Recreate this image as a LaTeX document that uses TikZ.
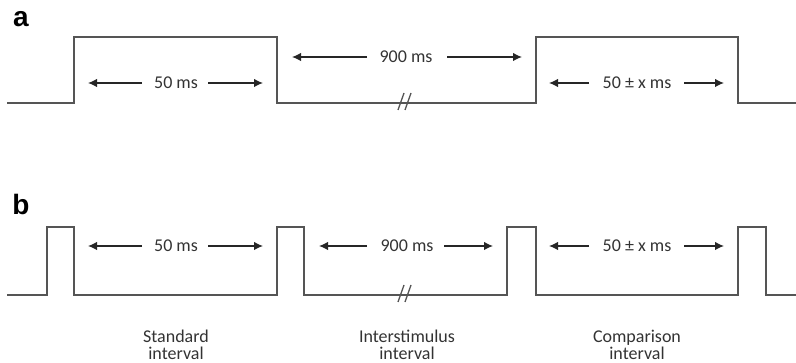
\documentclass[tikz,border=0pt]{standalone}
\usepackage{fontspec}
\setmainfont{Carlito}
\newfontfamily\labfont{Liberation Sans}
\usetikzlibrary{arrows.meta}
\definecolor{wave}{HTML}{555555}
\definecolor{txt}{HTML}{333333}
\tikzset{
  wavepath/.style={draw=wave, line width=1.4pt, line join=miter},
  arr/.style={draw=black!85, line width=1.3pt, -{Latex[length=9pt,width=8.5pt]}},
  lbl/.style={text=txt, font=\fontsize{18}{18}\selectfont, inner sep=0pt},
  captext/.style={text=txt, font=\fontsize{18}{16.5}\selectfont, align=center, inner sep=0pt},
  panel/.style={text=black, font=\labfont\bfseries\fontsize{28}{28}\selectfont, inner sep=0pt},
  brk/.style={draw=wave, line width=1.3pt}
}
\begin{document}
\begin{tikzpicture}[x=1pt,y=-1pt]
\useasboundingbox (0,0) rectangle (796,363);
% panel labels
\node[panel] (pa) at (21,19.5) {a};
\node[panel] (pb) at (21,204) {b};
% panel a waveform
\coordinate (a0) at (7,103);
\coordinate (a1) at (74,103);
\coordinate (a2) at (74,37);
\coordinate (a3) at (277,37);
\coordinate (a4) at (277,103);
\coordinate (a5) at (536,103);
\coordinate (a6) at (536,37);
\coordinate (a7) at (738,37);
\coordinate (a8) at (738,103);
\coordinate (a9) at (796,103);
\draw[wavepath] (a0) -- (a1) -- (a2) -- (a3) -- (a4) -- (a5) -- (a6) -- (a7) -- (a8) -- (a9);
\coordinate (sa1) at (398,110); \coordinate (sa2) at (404,93);
\coordinate (sa3) at (405,110); \coordinate (sa4) at (411,93);
\draw[brk] (sa1) -- (sa2);
\draw[brk] (sa3) -- (sa4);
% panel a labels and arrows
\node[lbl] (ta1) at (176,83) {50 ms};
\coordinate (ta1l) at (142,83); \coordinate (ta1le) at (88,83);
\coordinate (ta1r) at (208,83); \coordinate (ta1re) at (263,83);
\draw[arr] (ta1l) -- (ta1le);
\draw[arr] (ta1r) -- (ta1re);
\node[lbl] (ta2) at (406,57) {900 ms};
\coordinate (ta2l) at (367,57); \coordinate (ta2le) at (292,57);
\coordinate (ta2r) at (447,57); \coordinate (ta2re) at (522,57);
\draw[arr] (ta2l) -- (ta2le);
\draw[arr] (ta2r) -- (ta2re);
\node[lbl] (ta3) at (637,83) {50 ± x ms};
\coordinate (ta3l) at (589,83); \coordinate (ta3le) at (549,83);
\coordinate (ta3r) at (684,83); \coordinate (ta3re) at (724,83);
\draw[arr] (ta3l) -- (ta3le);
\draw[arr] (ta3r) -- (ta3re);
% panel b waveform
\coordinate (b0) at (7,295);
\coordinate (b1) at (47,295);
\coordinate (b2) at (47,227);
\coordinate (b3) at (74,227);
\coordinate (b4) at (74,295);
\coordinate (b5) at (277,295);
\coordinate (b6) at (277,227);
\coordinate (b7) at (304,227);
\coordinate (b8) at (304,295);
\coordinate (b9) at (507,295);
\coordinate (b10) at (507,227);
\coordinate (b11) at (536,227);
\coordinate (b12) at (536,295);
\coordinate (b13) at (738,295);
\coordinate (b14) at (738,227);
\coordinate (b15) at (766,227);
\coordinate (b16) at (766,295);
\coordinate (b17) at (796,295);
\draw[wavepath] (b0) -- (b1) -- (b2) -- (b3) -- (b4) -- (b5) -- (b6) -- (b7) -- (b8) -- (b9) -- (b10) -- (b11) -- (b12) -- (b13) -- (b14) -- (b15) -- (b16) -- (b17);
\coordinate (sb1) at (398,302); \coordinate (sb2) at (404,285);
\coordinate (sb3) at (405,302); \coordinate (sb4) at (411,285);
\draw[brk] (sb1) -- (sb2);
\draw[brk] (sb3) -- (sb4);
% panel b labels and arrows
\node[lbl] (tb1) at (176,246) {50 ms};
\coordinate (tb1l) at (142,246); \coordinate (tb1le) at (88,246);
\coordinate (tb1r) at (208,246); \coordinate (tb1re) at (263,246);
\draw[arr] (tb1l) -- (tb1le);
\draw[arr] (tb1r) -- (tb1re);
\node[lbl] (tb2) at (407,246) {900 ms};
\coordinate (tb2l) at (367,246); \coordinate (tb2le) at (319,246);
\coordinate (tb2r) at (444,246); \coordinate (tb2re) at (493,246);
\draw[arr] (tb2l) -- (tb2le);
\draw[arr] (tb2r) -- (tb2re);
\node[lbl] (tb3) at (637,246) {50 ± x ms};
\coordinate (tb3l) at (589,246); \coordinate (tb3le) at (549,246);
\coordinate (tb3r) at (684,246); \coordinate (tb3re) at (724,246);
\draw[arr] (tb3l) -- (tb3le);
\draw[arr] (tb3r) -- (tb3re);
% interval captions
\node[captext] (c1) at (176,345) {Standard\\interval};
\node[captext] (c2) at (407,345) {Interstimulus\\interval};
\node[captext] (c3) at (637,345) {Comparison\\interval};
\end{tikzpicture}
\end{document}
